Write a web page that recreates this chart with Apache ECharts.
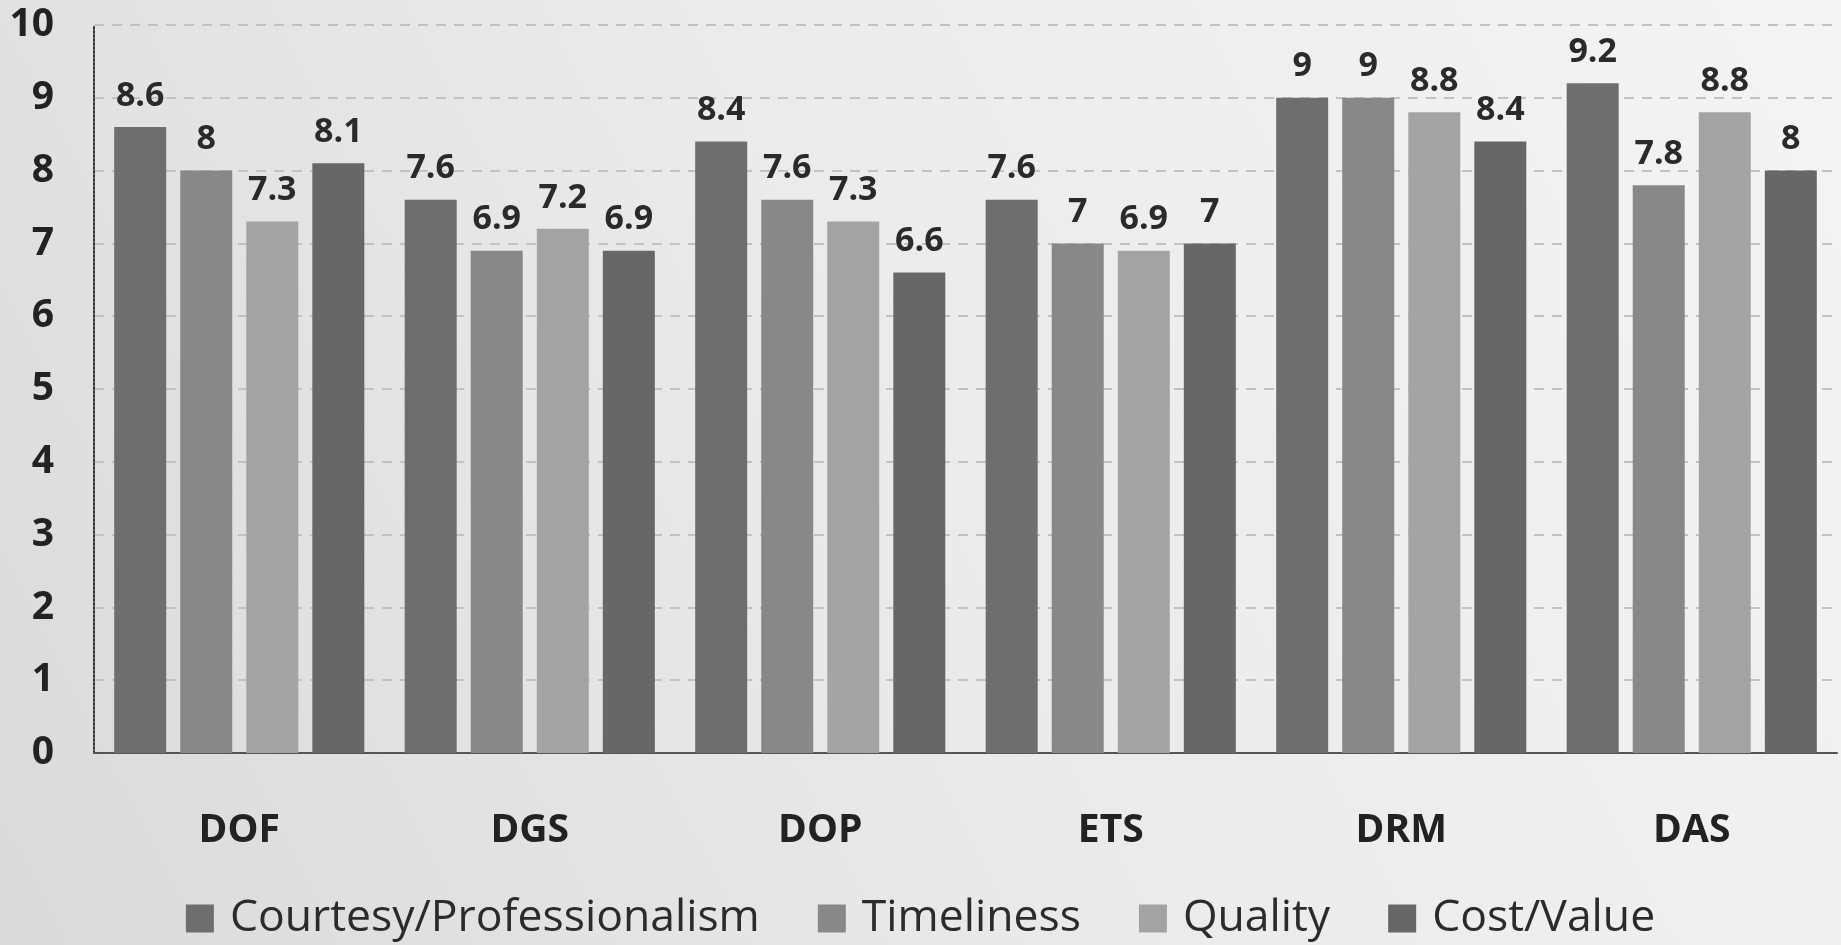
<!DOCTYPE html>
<html><head><meta charset="utf-8">
<script src="https://cdn.jsdelivr.net/npm/echarts@6/dist/echarts.min.js"></script>
<style>html,body{margin:0;padding:0;background:#e6e6e6}#c{width:1841px;height:945px}</style>
</head><body><div id="c"></div>
<script>
const categories = ['DOF','DGS','DOP','ETS','DRM','DAS'];
const seriesNames = ['Courtesy/Professionalism','Timeliness','Quality','Cost/Value'];
const courtesy = [8.6, 7.6, 8.4, 7.6, 9, 9.2];
const timeliness = [8, 6.9, 7.6, 7, 9, 7.8];
const quality = [7.3, 7.2, 7.3, 6.9, 8.8, 8.8];
const costValue = [8.1, 6.9, 6.6, 7, 8.4, 8];
const yTicks = [0,1,2,3,4,5,6,7,8,9,10];
const colors = ['#6e6e6e','#888888','#a3a3a3','#676767'];
const FONT = '"Open Sans", "Noto Sans", sans-serif';
const values = [courtesy, timeliness, quality, costValue];

const chart = echarts.init(document.getElementById('c'));
chart.setOption({
  backgroundColor: {
    type: 'linear', x: 0, y: 1, x2: 1, y2: 0,
    colorStops: [{offset: 0, color: '#dadada'}, {offset: 0.5, color: '#ebebeb'}, {offset: 1, color: '#f4f4f4'}]
  },
  animation: false,
  textStyle: {fontFamily: FONT},
  grid: {left: 94, right: 4, top: 25, bottom: 192, containLabel: false},
  legend: {
    bottom: -1, left: 'center',
    itemWidth: 28, itemHeight: 28, itemGap: 58,
    icon: 'rect',
    textStyle: {fontFamily: FONT, fontSize: 44.5, color: '#2b2b2b', padding: [0,0,0,11]},
    data: seriesNames
  },
  xAxis: {
    type: 'category', data: categories,
    axisLine: {show: true, lineStyle: {color: '#555', width: 2}},
    axisTick: {show: false},
    axisLabel: {fontFamily: FONT, fontWeight: 'bold', fontSize: 39, color: '#222', margin: 58}
  },
  yAxis: {
    type: 'value', min: yTicks[0], max: yTicks[yTicks.length-1], interval: 1,
    axisLine: {show: true, lineStyle: {color: '#333', type: 'dotted', width: 2}},
    axisTick: {show: false},
    axisLabel: {fontFamily: FONT, fontWeight: 'bold', fontSize: 39, color: '#222', margin: 40},
    splitLine: {show: true, lineStyle: {color: '#c2c2c2', type: [10, 8], width: 2}}
  },
  series: seriesNames.map((n, i) => ({
    name: n, type: 'bar', data: values[i],
    barWidth: 52, barGap: '27%',
    itemStyle: {color: colors[i]},
    label: {show: true, position: 'top', distance: 14, fontFamily: FONT, fontWeight: 'bold', fontSize: 34, color: '#2a2a2a'}
  }))
});
</script></body></html>
